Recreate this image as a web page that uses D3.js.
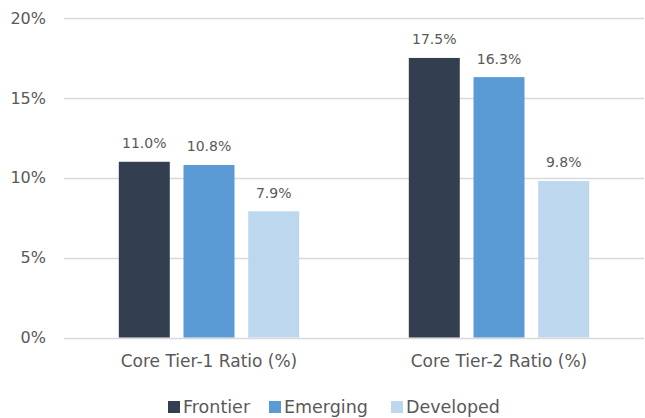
<!DOCTYPE html>
<html>
<head>
<meta charset="utf-8">
<script src="https://cdn.jsdelivr.net/npm/d3@7"></script>
<style>
  html, body { margin: 0; padding: 0; background: #fff; }
  svg text { font-family: "DejaVu Sans", "Open Sans", sans-serif; fill: #595959; }
</style>
</head>
<body>
<svg id="chart" width="645" height="418"></svg>
<script>
// Capital ratios by market type
const categories = ["Core Tier-1 Ratio (%)", "Core Tier-2 Ratio (%)"];
const seriesNames = ["Frontier", "Emerging", "Developed"];
const frontier = [11.0, 17.5];
const emerging = [10.8, 16.3];
const developed = [7.9, 9.8];
const yTicks = [0, 5, 10, 15, 20];
const colors = ["#333f50", "#5b9bd5", "#bdd7ee"];

const seriesValues = [frontier, emerging, developed];
const rows = categories.map((c, i) => ({
  category: c,
  values: seriesNames.map((s, j) => ({ series: s, value: seriesValues[j][i] }))
}));

const svg = d3.select("#chart");
const margin = { left: 64, right: 1, top: 18, bottom: 80.5 };
const W = 645, H = 418;

const x0 = d3.scaleBand().domain(categories).range([margin.left, W - margin.right]);
const x1 = d3.scaleBand().domain(seriesNames).range([0, x0.bandwidth()])
  .paddingInner(0.212).paddingOuter(0.847);
const y = d3.scaleLinear().domain([0, 20]).range([H - margin.bottom, margin.top]);
const color = d3.scaleOrdinal().domain(seriesNames).range(colors);

// gridlines
svg.append("g").selectAll("line").data(yTicks).join("line")
  .attr("x1", margin.left).attr("x2", W - margin.right)
  .attr("y1", d => Math.round(y(d)) + 0.5).attr("y2", d => Math.round(y(d)) + 0.5)
  .attr("stroke", "#d9d9d9").attr("stroke-width", 1.3);

// y axis labels
const yAxis = d3.axisLeft(y).tickValues(yTicks).tickFormat(d => d + "%").tickSize(0).tickPadding(18);
const ga = svg.append("g").attr("transform", `translate(${margin.left},0)`).call(yAxis);
ga.select(".domain").remove();
ga.selectAll("text").style("font-size", "16px").attr("fill", "#595959");

// bars
const groups = svg.append("g").selectAll("g").data(rows).join("g")
  .attr("transform", d => `translate(${x0(d.category)},0)`);
groups.selectAll("rect").data(d => d.values).join("rect")
  .attr("x", d => x1(d.series))
  .attr("width", x1.bandwidth())
  .attr("y", d => y(d.value))
  .attr("height", d => y(0) - y(d.value))
  .attr("fill", d => color(d.series));

// value labels
groups.selectAll("text.val").data(d => d.values).join("text")
  .attr("class", "val")
  .attr("x", d => x1(d.series) + x1.bandwidth() / 2)
  .attr("y", d => y(d.value) - 13.5)
  .attr("text-anchor", "middle")
  .style("font-size", "14px")
  .text(d => d.value.toFixed(1) + "%");

// category labels
const xAxis = d3.axisBottom(x0).tickSize(0).tickPadding(17);
const gx = svg.append("g").attr("transform", `translate(0,${y(0)})`).call(xAxis);
gx.select(".domain").remove();
gx.selectAll("text").style("font-size", "17px").attr("fill", "#595959");
svg.selectAll(".tick text").attr("font-family", null);

// legend
const legendX = [168, 269, 391];
const legend = svg.append("g").selectAll("g").data(seriesNames).join("g")
  .attr("transform", (d, i) => `translate(${legendX[i]},401)`);
legend.append("rect").attr("width", 12).attr("height", 12).attr("fill", d => color(d));
legend.append("text").attr("x", 15).attr("y", 12.3)
  .style("font-size", "17.5px").text(d => d);
</script>
</body>
</html>
